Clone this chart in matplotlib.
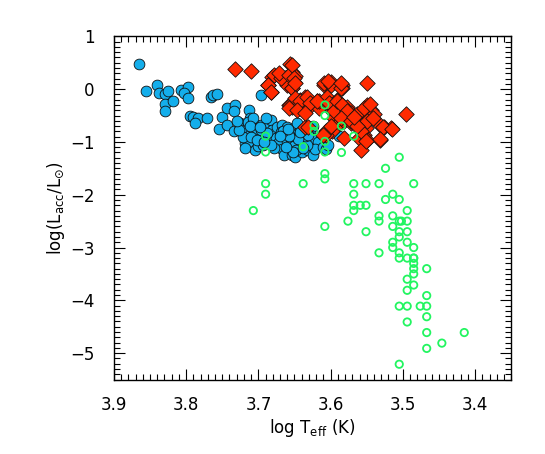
import matplotlib
matplotlib.use("Agg")
import matplotlib.pyplot as plt
from matplotlib.ticker import MultipleLocator

# blue filled circles: log Teff, log Lacc/Lsun
blue_teff = [3.865, 3.856, 3.840, 3.838, 3.829, 3.825, 3.829, 3.818, 3.829, 3.807,
             3.798, 3.803, 3.798, 3.765, 3.763, 3.757, 3.795, 3.790, 3.784, 3.788,
             3.771, 3.750, 3.743, 3.733, 3.734, 3.713, 3.711, 3.697, 3.755, 3.743,
             3.734, 3.725, 3.718, 3.704, 3.725, 3.719, 3.715, 3.711, 3.708, 3.704,
             3.701, 3.697, 3.694, 3.692, 3.689, 3.686, 3.683, 3.714, 3.700, 3.707,
             3.721, 3.681, 3.676, 3.690, 3.718, 3.694, 3.674, 3.667, 3.660, 3.651,
             3.642, 3.669, 3.663, 3.656, 3.649, 3.644, 3.658, 3.653, 3.646, 3.639,
             3.635, 3.672, 3.667, 3.664, 3.654, 3.649, 3.640, 3.631, 3.624, 3.628,
             3.624, 3.618, 3.621, 3.611, 3.607, 3.603, 3.624, 3.633, 3.658, 3.678,
             3.683, 3.647, 3.642, 3.588, 3.635, 3.632,
             3.706, 3.699, 3.703, 3.696, 3.710, 3.702, 3.688, 3.712, 3.692, 3.698,
             3.661, 3.655, 3.650, 3.645, 3.657, 3.648, 3.652, 3.662, 3.643, 3.638,
             3.666, 3.670, 3.659, 3.727, 3.730]
blue_lacc = [0.48, -0.03, 0.08, -0.08, -0.09, -0.03, -0.28, -0.23, -0.42, -0.01,
             0.04, -0.08, -0.17, -0.15, -0.12, -0.09, -0.51, -0.52, -0.55, -0.65,
             -0.55, -0.52, -0.36, -0.30, -0.41, -0.39, -0.55, -0.12, -0.75, -0.67,
             -0.80, -0.71, -1.02, -1.15, -0.64, -0.77, -0.62, -0.86, -0.71, -0.79,
             -0.92, -0.67, -0.82, -0.96, -0.73, -0.88, -0.58, -1.00, -1.07, -0.54,
             -0.90, -0.77, -0.92, -0.54, -1.11, -1.05, -0.71, -0.67, -0.71, -0.73,
             -0.77, -0.82, -0.92, -0.84, -0.96, -0.86, -1.05, -1.13, -1.07, -1.00,
             -0.90, -1.00, -1.14, -1.24, -1.24, -1.28, -1.20, -1.16, -1.24, -0.81,
             -0.92, -1.01, -1.14, -1.09, -1.14, -1.05, -0.69, -1.05, -0.96, -1.11,
             -1.05, -0.65, -0.39, -0.89, -0.89, -0.86,
             -0.80, -0.85, -0.75, -0.78, -0.90, -0.97, -0.83, -0.70, -1.00, -0.72,
             -0.98, -1.02, -1.08, -0.94, -0.88, -1.15, -1.20, -1.10, -0.82, -1.12,
             -0.80, -0.88, -0.76, -0.78, -0.60]

# red diamonds
red_teff = [3.732, 3.710, 3.656, 3.681, 3.672, 3.663, 3.653, 3.649, 3.651, 3.686,
            3.683, 3.660, 3.653, 3.658, 3.651, 3.642, 3.635, 3.630, 3.644, 3.632,
            3.619, 3.653, 3.616, 3.635, 3.609, 3.600, 3.584, 3.584, 3.550, 3.616,
            3.605, 3.602, 3.591, 3.586, 3.577, 3.572, 3.598, 3.595, 3.591, 3.598,
            3.607, 3.582, 3.572, 3.565, 3.556, 3.549, 3.544, 3.549, 3.540, 3.558,
            3.551, 3.554, 3.561, 3.549, 3.558, 3.531, 3.526, 3.517, 3.531, 3.582,
            3.632, 3.496, 3.678, 3.669, 3.686, 3.683, 3.672, 3.658, 3.654, 3.651,
            3.654, 3.649, 3.609, 3.600, 3.604, 3.586, 3.586, 3.656, 3.649, 3.642,
            3.633, 3.628, 3.619, 3.658, 3.646, 3.635, 3.602, 3.595, 3.591, 3.584,
            3.577, 3.586, 3.572, 3.563, 3.554, 3.549, 3.558, 3.551, 3.607, 3.600,
            3.611, 3.545, 3.527, 3.515, 3.531, 3.563, 3.568, 3.542]
red_lacc = [0.38, 0.35, 0.47, 0.23, 0.27, 0.21, 0.33, 0.24, 0.14, 0.08,
            -0.05, 0.08, 0.02, -0.30, -0.23, -0.20, -0.14, -0.30, -0.33, -0.36,
            -0.23, -0.33, -0.36, -0.71, 0.08, 0.13, 0.08, 0.02, 0.12, -0.23,
            -0.14, -0.30, -0.20, -0.30, -0.33, -0.45, -0.42, -0.55, -0.67, -0.80,
            -0.86, -0.61, -0.64, -0.58, -0.61, -0.30, -0.39, -0.48, -0.48, -0.67,
            -0.74, -0.86, -0.92, -0.96, -1.15, -0.67, -0.71, -0.74, -0.96, -0.92,
            -0.71, -0.47, 0.27, 0.21, 0.08, -0.05, 0.30, 0.27, 0.46, 0.21,
            0.02, 0.11, 0.11, 0.08, 0.15, 0.02, 0.11, -0.30, -0.17, -0.23,
            -0.14, -0.26, -0.23, -0.36, -0.39, -0.45, -0.26, -0.42, -0.23, -0.30,
            -0.42, -0.55, -0.61, -0.48, -0.36, -0.61, -0.80, -0.99, -0.80, -0.70,
            -0.86, -0.28, -0.71, -0.75, -0.94, -0.70, -0.52, -0.55]

# green open circles
green_teff = [3.690, 3.690, 3.690, 3.690, 3.638, 3.638, 3.623, 3.623, 3.608, 3.608,
              3.608, 3.608, 3.608, 3.608, 3.608, 3.585, 3.585, 3.568, 3.568, 3.568,
              3.568, 3.568, 3.707, 3.576, 3.559, 3.551, 3.551, 3.551, 3.533, 3.533,
              3.533, 3.533, 3.524, 3.524, 3.514, 3.514, 3.514, 3.514, 3.514, 3.505,
              3.505, 3.502, 3.505, 3.505, 3.505, 3.505, 3.505, 3.505, 3.505, 3.494,
              3.494, 3.494, 3.494, 3.494, 3.494, 3.494, 3.494, 3.494, 3.485, 3.485,
              3.485, 3.485, 3.485, 3.485, 3.485, 3.485, 3.476, 3.467, 3.467, 3.467,
              3.467, 3.467, 3.467, 3.446, 3.415]
green_lacc = [-0.89, -1.19, -1.79, -1.99, -1.09, -1.79, -0.69, -0.80, -0.30, -0.50,
              -0.99, -1.19, -1.60, -1.70, -2.60, -0.70, -1.20, -0.89, -1.79, -1.99,
              -2.20, -2.30, -2.30, -2.50, -2.20, -1.79, -2.20, -2.70, -1.79, -2.40,
              -2.50, -3.10, -1.50, -2.09, -1.99, -2.40, -2.60, -2.90, -3.00, -1.29,
              -2.09, -2.50, -2.50, -2.70, -2.80, -3.10, -3.20, -4.11, -5.21, -2.30,
              -2.70, -2.90, -3.20, -3.60, -3.81, -4.11, -4.41, -2.50, -1.79, -3.00,
              -3.20, -3.30, -3.40, -3.50, -3.71, -3.20, -4.11, -3.40, -3.91, -4.11,
              -4.31, -4.61, -4.91, -4.81, -4.61]

plt.rcParams['font.family'] = ['DejaVu Sans']

fig = plt.figure(figsize=(5.45, 4.54), dpi=100)
ax = fig.add_axes([0.209, 0.164, 0.729, 0.756])

ax.scatter(blue_teff, blue_lacc, s=60, c='#14AEEB', edgecolors='#111111',
           linewidths=0.6, zorder=2)
ax.scatter(red_teff, red_lacc, s=62, marker='D', c='#FF2A00', edgecolors='#111111',
           linewidths=0.6, zorder=3)
ax.scatter(green_teff, green_lacc, s=28, facecolors='none', edgecolors='#22F560',
           linewidths=1.3, zorder=4)

ax.set_xlim(3.9, 3.35)
ax.set_ylim(-5.5, 1.0)
ax.xaxis.set_major_locator(MultipleLocator(0.1))
ax.xaxis.set_minor_locator(MultipleLocator(0.01))
ax.yaxis.set_major_locator(MultipleLocator(1))
ax.yaxis.set_minor_locator(MultipleLocator(0.1))
ax.xaxis.set_major_formatter(plt.FormatStrFormatter('%.1f'))
ax.yaxis.set_major_formatter(plt.FuncFormatter(lambda v, p: '%d' % round(v) if round(v) >= 0 else '\u2212%d' % abs(round(v))))

ax.tick_params(which='both', direction='in', top=True, right=True, labelsize=12, color='black')
ax.tick_params(which='major', length=8, width=0.8)
ax.tick_params(axis='x', which='major', pad=12)
ax.tick_params(axis='y', which='major', pad=14)
ax.tick_params(which='minor', length=4, width=0.8)
for sp in ax.spines.values():
    sp.set_linewidth(1.0)

ax.set_xlabel(r'log T$_{\mathrm{eff}}$ (K)', fontsize=12, labelpad=2)
ax.set_ylabel(r'log(L$_{\mathrm{acc}}$/L$_{\odot}$)', fontsize=12, labelpad=2)

fig.savefig('out.png', dpi=100)
